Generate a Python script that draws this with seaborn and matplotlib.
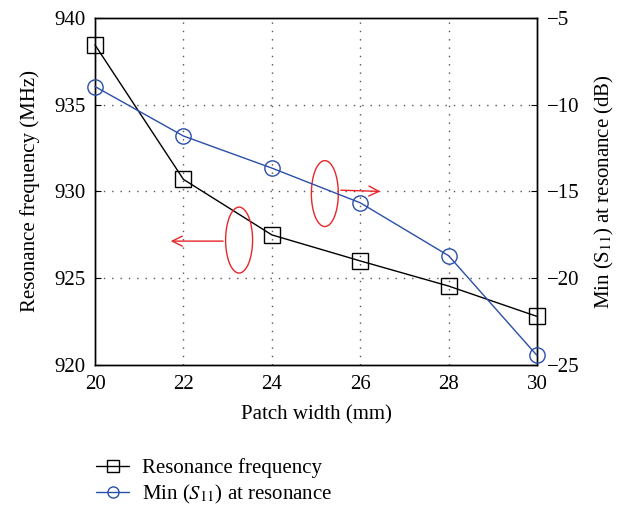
import matplotlib
matplotlib.use("Agg")
import matplotlib.pyplot as plt
import seaborn as sns
import pandas as pd
from matplotlib.patches import Ellipse
from matplotlib.lines import Line2D

patch_width = [20, 22, 24, 26, 28, 30]
res_freq = [938.45, 930.7, 927.5, 926.0, 924.55, 922.8]
min_s11 = [-8.95, -11.8, -13.65, -15.65, -18.7, -24.45]

sns.set_theme(style="white")
plt.rcParams['font.family'] = ['Liberation Serif', 'DejaVu Serif']
plt.rcParams['mathtext.fontset'] = 'stix'
plt.rcParams['axes.unicode_minus'] = True
plt.rcParams['text.color'] = 'black'
plt.rcParams['axes.labelcolor'] = 'black'

df = pd.DataFrame({"w": patch_width, "f": res_freq, "s": min_s11})

fig = plt.figure(figsize=(6.23, 5.05), dpi=100)
ax = fig.add_axes([95/623, 1-365/505, 442/623, 347/505])
ax2 = ax.twinx()

sns.lineplot(data=df, x="w", y="f", ax=ax, color="black", marker="s", markersize=11,
             markerfacecolor="none", markeredgecolor="black", markeredgewidth=1.0,
             linewidth=1.0, legend=False, clip_on=False, zorder=4)
sns.lineplot(data=df, x="w", y="s", ax=ax2, color="#2a4fa8", marker="o", markersize=11,
             markerfacecolor="none", markeredgecolor="#2a4fa8", markeredgewidth=1.0,
             linewidth=1.0, legend=False, clip_on=False, zorder=4)

ax.set_xlim(20, 30)
ax.set_ylim(920, 940)
ax2.set_ylim(-25, -5)
ax.set_xticks(patch_width)
ax.set_yticks([920, 925, 930, 935, 940])
ax2.set_yticks([-25, -20, -15, -10, -5])

for a in (ax, ax2):
    for s in a.spines.values():
        s.set_color("black")
        s.set_linewidth(1.0)
    a.tick_params(direction="in", length=4, width=0.8, colors="black", labelsize=15, pad=7)

for x in [22, 24, 26, 28]:
    ax.axvline(x, color="#555555", linestyle=(0, (1, 5)), linewidth=1.0, zorder=0)
for y in [925, 930, 935]:
    ax.axhline(y, color="#555555", linestyle=(0, (1, 5)), linewidth=1.0, zorder=0)

ax.set_xlabel("Patch width (mm)", fontsize=15, labelpad=8, color="black")
ax.set_ylabel("Resonance frequency (MHz)", fontsize=15, labelpad=10, color="black")
ax2.set_ylabel(r"Min (S$_{11}$) at resonance (dB)", fontsize=15, labelpad=10, color="black")

red = "#e8262a"
ax.add_patch(Ellipse((0.326, 0.360), 0.061, 0.19, transform=ax.transAxes,
                     fill=False, edgecolor=red, linewidth=1.0, zorder=5))
ax.annotate("", xy=(0.165, 0.357), xytext=(0.296, 0.357), xycoords="axes fraction",
            arrowprops=dict(arrowstyle="->", color=red, lw=1.0, mutation_scale=18))
ax.add_patch(Ellipse((0.520, 0.494), 0.061, 0.19, transform=ax.transAxes,
                     fill=False, edgecolor=red, linewidth=1.0, zorder=5))
ax.annotate("", xy=(0.652, 0.500), xytext=(0.550, 0.504), xycoords="axes fraction",
            arrowprops=dict(arrowstyle="->", color=red, lw=1.0, mutation_scale=18))

handles = [
    Line2D([], [], color="black", marker="s", markersize=8, markerfacecolor="none",
           markeredgecolor="black", linewidth=1.0),
    Line2D([], [], color="#2a4fa8", marker="o", markersize=8, markerfacecolor="none",
           markeredgecolor="#2a4fa8", linewidth=1.0),
]
leg = fig.legend(handles, ["Resonance frequency", r"Min ($S_{11}$) at resonance"],
                 loc="upper left", bbox_to_anchor=(96/623, 1-458/505), frameon=False,
                 fontsize=15, handlelength=1.6, handletextpad=0.6, labelspacing=0.25,
                 borderpad=0, borderaxespad=0)
for t in leg.get_texts():
    t.set_color("black")

fig.savefig("out.png", dpi=100)
